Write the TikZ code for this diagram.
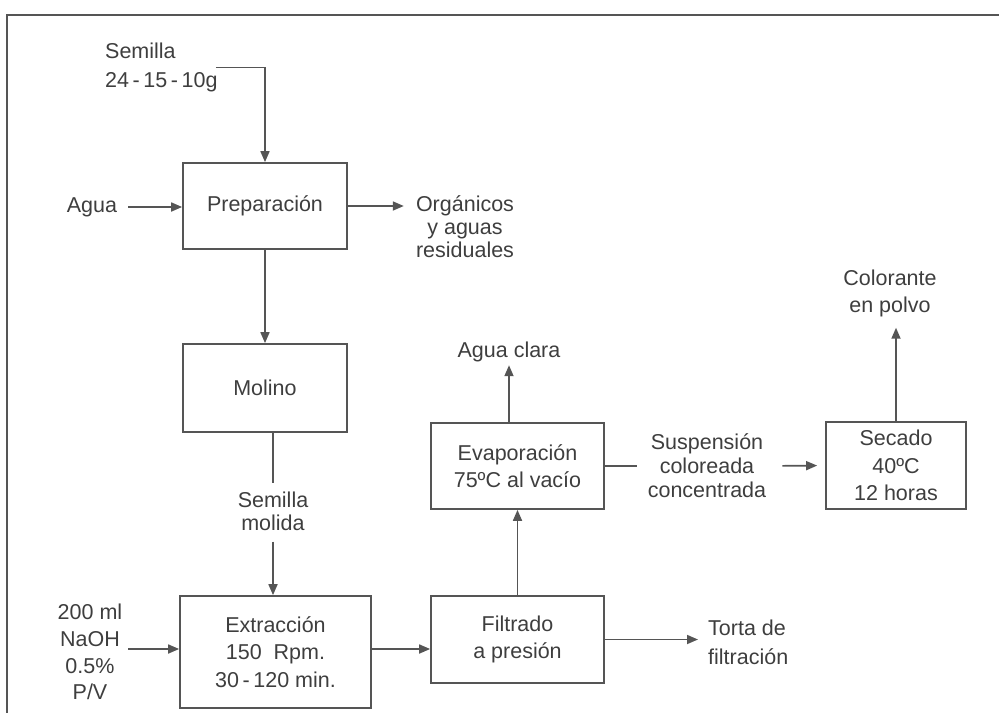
\documentclass[tikz,border=0pt]{standalone}
\usepackage{fontspec}
\setmainfont{Liberation Sans}
\usetikzlibrary{arrows.meta}
\definecolor{linegray}{RGB}{85,85,85}
\definecolor{textgray}{RGB}{62,62,62}
\newcommand{\fs}[1]{\fontsize{21.5}{#1}\selectfont}
\tikzset{
  proc/.style={draw=linegray, line width=1.7pt, align=center, text=textgray, inner sep=0pt, font=\fs{27.5}},
  txt/.style={align=center, text=textgray, inner sep=0pt, font=\fs{26}},
  line/.style={draw=linegray, line width=1.7pt},
  flow/.style={line, -{Triangle[length=11pt,width=9pt]}},
}
\begin{document}
\begin{tikzpicture}[x=1pt,y=-1pt]
\useasboundingbox (0,0) rectangle (999,715);
% marco
\draw[line] (999,15) -- (7,15) -- (7,713);

% procesos
\node[proc, minimum width=164pt, minimum height=86pt] (prep) at (265,206) {Preparación};
\node[proc, minimum width=164pt, minimum height=88pt] (molino) at (265,388) {Molino};
\node[proc, minimum width=191pt, minimum height=112pt] (extr) at (275.5,652) {Extracción\\150\ \ Rpm.\\30\,-\,120 min.};
\node[proc, minimum width=173pt, minimum height=87pt] (filtr) at (517.5,639.5) {Filtrado\\a presión};
\node[proc, minimum width=173pt, minimum height=86pt] (evap) at (517.5,466) {Evaporación\\75ºC al vacío};
\node[proc, minimum width=140pt, minimum height=87pt] (secado) at (896,465.5) {Secado\\40ºC\\12 horas};

% entradas y salidas
\node[txt, align=left, anchor=west, font=\fs{29}] (sem) at (105,67.5) {Semilla\\24\,-\,15\,-\,10g};
\node[txt] (agua) at (92,207) {Agua};
\node[txt, font=\fs{23}] (org) at (465,227) {Orgánicos\\y aguas\\residuales};
\node[txt, font=\fs{23}] (molida) at (273,511) {Semilla\\molida};
\node[txt, font=\fs{26.7}] (naoh) at (90,652) {200 ml\\NaOH\\0.5\%\\P/V};
\node[txt, align=left, anchor=west, font=\fs{29}] (torta) at (708,642.5) {Torta de\\filtración};
\node[txt] (clara) at (509,352) {Agua clara};
\node[txt, font=\fs{24}] (susp) at (707,466) {Suspensión\\coloreada\\concentrada};
\node[txt, font=\fs{27}] (color) at (890,293) {Colorante\\en polvo};

% flujos
\draw[flow] ([xshift=-2pt]sem.east) -| (prep.north);
\draw[flow, shorten <=11pt] (agua.east) -- (agua.east -| prep.west);
\draw[flow, shorten >=12pt] (prep.east) -- (prep.east -| org.west);
\draw[flow] (prep.south) -- (molino.north);
\draw[line, shorten >=8pt] (molino.south -| molida) -- (molida.north);
\draw[flow, shorten <=11pt] (molida.south) -- (molida.south |- extr.north);
\draw[flow, shorten <=6pt] (naoh.east |- 0,649) -- (extr.west |- 0,649);
\draw[flow] (extr.east |- 0,649) -- (filtr.west |- 0,649);
\draw[flow, shorten >=10pt] (filtr.east) -- (filtr.east -| torta.west);
\draw[flow] (filtr.north) -- (evap.south);
\draw[flow, shorten >=3pt] (evap.north -| clara) -- (clara.south);
\draw[line, shorten >=11pt] (evap.east) -- (susp.west);
\draw[flow, shorten <=16pt, shorten >=8pt] (susp.east) -- (secado.west);
\draw[flow, shorten >=11pt] (secado.north) -- (secado.north |- color.south);
\end{tikzpicture}
\end{document}
